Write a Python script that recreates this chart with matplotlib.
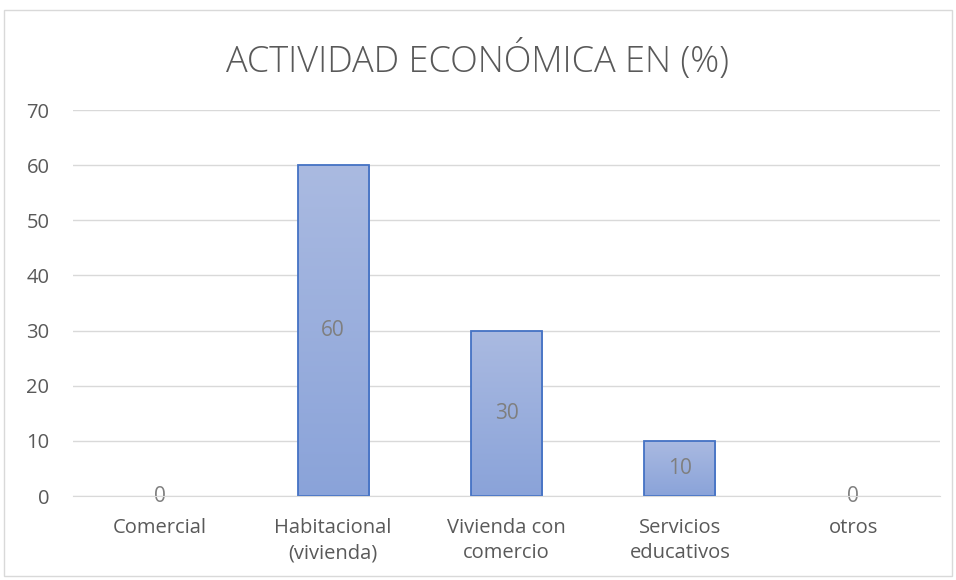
import numpy as np
import matplotlib.pyplot as plt
from matplotlib.colors import LinearSegmentedColormap

# datos del gráfico
categorias = ["Comercial", "Habitacional\n(vivienda)", "Vivienda con\ncomercio",
              "Servicios\neducativos", "otros"]
valores = [0, 60, 30, 10, 0]
yticks = [0, 10, 20, 30, 40, 50, 60, 70]
titulo = "ACTIVIDAD ECONÓMICA EN (%)"

plt.rcParams['font.family'] = ['Open Sans', 'DejaVu Sans']

fig = plt.figure(figsize=(9.56, 5.8), dpi=100)
ax = fig.add_axes([0.0764, 0.1448, 0.9069, 0.6655])

x = np.arange(len(categorias))
ancho = 0.41

# degradado vertical como en el original
cmap = LinearSegmentedColormap.from_list("grad", ["#8aa3d9", "#aabae1"])
grad = np.linspace(0, 1, 256).reshape(-1, 1)

bordes = ["#4472c4" if v > 0 else "none" for v in valores]
barras = ax.bar(x, valores, width=ancho, color="none", edgecolor=bordes,
                linewidth=1.3, zorder=3)
for b in barras:
    if b.get_height() <= 0:
        continue
    im = ax.imshow(grad, cmap=cmap, origin="lower", aspect="auto",
                   extent=[b.get_x(), b.get_x() + b.get_width(), 0, b.get_height()],
                   zorder=2)
    im.set_clip_path(b)

for xi, v in zip(x, valores):
    ax.text(xi, v / 2, str(v), ha="center", va="center", fontsize=15,
            color="#7f7f7f", zorder=4)

ax.set_xlim(-0.5, len(categorias) - 0.5)
ax.set_ylim(0, 70)
ax.set_yticks(yticks)
ax.set_xticks(x)
ax.set_xticklabels(categorias, linespacing=1.35)
ax.tick_params(axis="both", length=0, labelsize=14.5, labelcolor="#595959")
ax.tick_params(axis="x", pad=16)
ax.tick_params(axis="y", pad=17)
ax.grid(axis="y", color="#d9d9d9", linewidth=1, zorder=0)
for s in ["top", "right", "left"]:
    ax.spines[s].set_visible(False)
ax.spines["bottom"].set_color("#d9d9d9")
ax.spines["bottom"].set_zorder(5)

fig.text(0.5, 0.895, titulo, ha="center", va="center", fontsize=26,
         fontweight="light", color="#595959")

# marco del gráfico
fig.patches.append(plt.Rectangle((0.004, 0.007), 0.992, 0.975, transform=fig.transFigure,
                                 fill=False, edgecolor="#d9d9d9", linewidth=1))

fig.savefig("out.png", dpi=100)
